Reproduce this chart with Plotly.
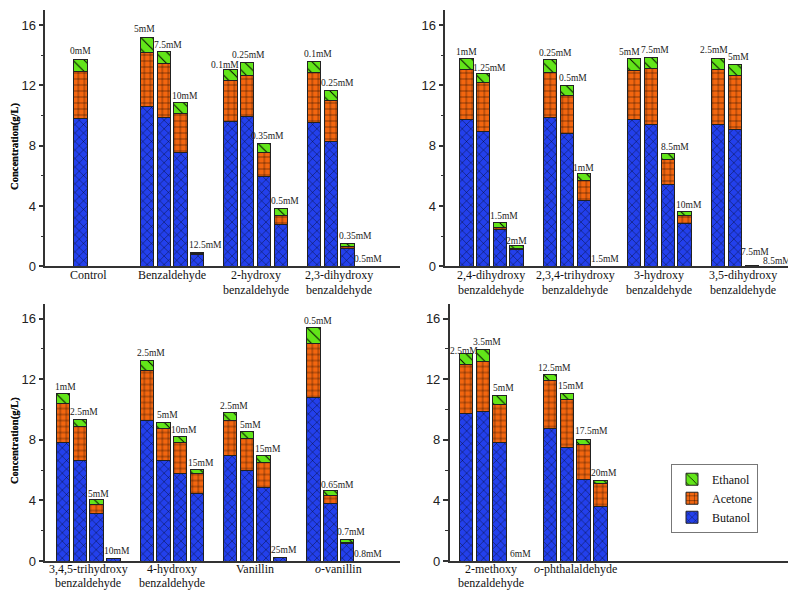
import plotly.graph_objects as go

# ---------------- data ----------------
categories_p1 = ["Control", "Benzaldehyde", "2-hydroxy<br>benzaldehyde", "2,3-dihydroxy<br>benzaldehyde"]
doses_p1 = [["0mM"], ["5mM", "7.5mM", "10mM", "12.5mM"], ["0.1mM", "0.25mM", "0.35mM", "0.5mM"],
            ["0.1mM", "0.25mM", "0.35mM", "0.5mM"]]
butanol_p1 = [[9.80], [10.60, 9.86, 7.53, 0.76], [9.62, 9.93, 5.96, 2.76], [9.56, 8.25, 1.18, 0.0]]
acetone_p1 = [[3.13], [3.57, 3.57, 2.64, 0.08], [2.68, 2.70, 1.57, 0.59], [3.30, 2.74, 0.17, 0.0]]
ethanol_p1 = [[0.78], [0.98, 0.81, 0.69, 0.07], [0.78, 0.89, 0.65, 0.52], [0.74, 0.66, 0.17, 0.0]]

categories_p2 = ["2,4-dihydroxy<br>benzaldehyde", "2,3,4-trihydroxy<br>benzaldehyde",
                 "3-hydroxy<br>benzaldehyde", "3,5-dihydroxy<br>benzaldehyde"]
doses_p2 = [["1mM", "1.25mM", "1.5mM", "2mM"], ["0.25mM", "0.5mM", "1mM", "1.5mM"],
            ["5mM", "7.5mM", "8.5mM", "10mM"], ["2.5mM", "5mM", "7.5mM", "8.5mM"]]
butanol_p2 = [[9.73, 8.95, 2.48, 1.13], [9.88, 8.84, 4.40, 0.0], [9.75, 9.43, 5.42, 2.85], [9.43, 9.08, 0.04, 0.0]]
acetone_p2 = [[3.31, 3.26, 0.13, 0.09], [2.98, 2.52, 1.30, 0.0], [3.25, 3.72, 1.65, 0.52], [3.65, 3.57, 0.0, 0.0]]
ethanol_p2 = [[0.72, 0.61, 0.29, 0.15], [0.88, 0.66, 0.44, 0.0], [0.78, 0.72, 0.42, 0.27], [0.70, 0.74, 0.0, 0.0]]

categories_p3 = ["3,4,5-trihydroxy<br>benzaldehyde", "4-hydroxy<br>benzaldehyde", "Vanillin", "<i>o</i>-vanillin"]
doses_p3 = [["1mM", "2.5mM", "5mM", "10mM"], ["2.5mM", "5mM", "10mM", "15mM"],
            ["2.5mM", "5mM", "15mM", "25mM"], ["0.5mM", "0.65mM", "0.7mM", "0.8mM"]]
butanol_p3 = [[7.84, 6.67, 3.17, 0.17], [9.25, 6.67, 5.78, 4.43], [6.99, 6.01, 4.86, 0.26], [10.79, 3.78, 1.13, 0.0]]
acetone_p3 = [[2.56, 2.23, 0.56, 0.0], [3.36, 2.10, 2.04, 1.32], [2.28, 2.07, 1.65, 0.0], [3.58, 0.54, 0.11, 0.0]]
ethanol_p3 = [[0.65, 0.46, 0.33, 0.0], [0.66, 0.41, 0.39, 0.29], [0.52, 0.47, 0.44, 0.0], [1.02, 0.33, 0.21, 0.0]]

categories_p4 = ["2-methoxy<br>benzaldehyde", "<i>o</i>-phthalaldehyde"]
doses_p4 = [["2.5mM", "3.5mM", "5mM", "6mM"], ["12.5mM", "15mM", "17.5mM", "20mM"]]
butanol_p4 = [[9.75, 9.86, 7.84, 0.0], [8.75, 7.47, 5.38, 3.63]]
acetone_p4 = [[3.21, 3.30, 2.49, 0.0], [3.17, 3.17, 2.33, 1.47]]
ethanol_p4 = [[0.74, 0.82, 0.61, 0.0], [0.39, 0.45, 0.34, 0.24]]

series_names = ["Butanol", "Acetone", "Ethanol"]
y_ticks = [0, 4, 8, 12, 16]
y_title = "Concentration(g/L)"

# ---------------- style / layout ----------------
COLORS = {"Butanol": "#2340ec", "Acetone": "#f3660f", "Ethanol": "#62e619"}
PATTERNS = {"Butanol": dict(shape="x", size=6, solidity=0.12),
            "Acetone": dict(shape="+", size=6, solidity=0.14),
            "Ethanol": dict(shape="\\", size=8, solidity=0.12)}
PITCH = 0.2
BAR_W = 0.16
SERIF = "Liberation Serif, Times New Roman, serif"
SANS = "Liberation Sans, Arial, sans-serif"

panels = [
    dict(cats=categories_p1, doses=doses_p1, vals=[butanol_p1, acetone_p1, ethanol_p1],
         xdom=[0.0469, 0.4925], ydom=[0.5559, 0.9966], xr=[0.48, 4.73], lab_dy=(9, 24)),
    dict(cats=categories_p2, doses=doses_p2, vals=[butanol_p2, acetone_p2, ethanol_p2],
         xdom=[0.5494, 0.9987], ydom=[0.5559, 0.9966], xr=[0.45, 4.71], lab_dy=(9, 24)),
    dict(cats=categories_p3, doses=doses_p3, vals=[butanol_p3, acetone_p3, ethanol_p3],
         xdom=[0.0469, 0.4925], ydom=[0.0497, 0.4922], xr=[0.485, 4.735], lab_dy=(8, 22)),
    dict(cats=categories_p4, doses=doses_p4, vals=[butanol_p4, acetone_p4, ethanol_p4],
         xdom=[0.5549, 0.9925], ydom=[0.0497, 0.4922], xr=[0.505, 4.655], lab_dy=(8, 22)),
]

# label pixel shifts (dx, dy) for individual dose labels; default below
DEFAULT_SHIFT = (4, 7)
LABEL_SHIFT = {
    (0, 0, 0): (0, 9), (0, 1, 0): (-3, 9), (0, 1, 3): (8, 8), (0, 2, 0): (-6, 4), (0, 2, 1): (1, 7),
    (0, 3, 1): (7, 8), (0, 3, 2): (8, 8),
    (1, 0, 0): (0, 7), (1, 0, 1): (6, 5), (1, 0, 3): (0, 5), (1, 1, 0): (5, 6), (1, 1, 1): (6, 7),
    (1, 1, 2): (0, 6), (1, 2, 0): (-5, 7), (1, 2, 2): (7, 6), (1, 3, 0): (-4, 9), (1, 3, 2): (3, 14),
    (1, 3, 3): (8, 5),
    (2, 0, 0): (2, 7), (2, 0, 2): (2, 6), (2, 3, 1): (7, 6),
    (3, 0, 0): (-2, 3), (3, 1, 2): (8, 8),
}

fig = go.Figure()
annotations = []
layout_axes = {}

for p, panel in enumerate(panels):
    sfx = "" if p == 0 else str(p + 1)
    xs_all, totals, labels, keys = [], [], [], []
    for g, doses in enumerate(panel["doses"]):
        for s, d in enumerate(doses):
            slot = 1 if len(doses) == 1 else s
            xs_all.append(g + 1 + (slot - 1.5) * PITCH)
            totals.append(sum(panel["vals"][k][g][s] for k in range(3)))
            labels.append(d)
            keys.append((p, g, s))
    for k, name in enumerate(series_names):
        ys = [v for grp in panel["vals"][k] for v in grp]
        fig.add_trace(go.Bar(
            x=xs_all, y=ys, width=BAR_W, name=name, legendgroup=name,
            showlegend=(p == 0),
            marker=dict(color=COLORS[name], line=dict(color="#222", width=1),
                        pattern=dict(fillmode="replace", fgcolor="#000", bgcolor=COLORS[name],
                                     fgopacity=1, **PATTERNS[name])),
            xaxis="x" + sfx, yaxis="y" + sfx, hoverinfo="skip"))
    for x, t, lab, key in zip(xs_all, totals, labels, keys):
        dx, dy = LABEL_SHIFT.get(key, DEFAULT_SHIFT)
        annotations.append(dict(x=x, y=t, xref="x" + sfx, yref="y" + sfx, text=lab, showarrow=False,
                                xanchor="center", yanchor="middle", xshift=dx, yshift=dy,
                                font=dict(family=SERIF, size=9.5, color="#222")))
    # category labels (drawn as annotations for tight line spacing)
    for g, cat in enumerate(panel["cats"]):
        for li, line in enumerate(cat.split("<br>")):
            annotations.append(dict(x=g + 1, y=0, xref="x" + sfx, yref="y" + sfx + " domain",
                                    text=line, showarrow=False, xanchor="center", yanchor="middle",
                                    yshift=-panel["lab_dy"][li], borderpad=0,
                                    font=dict(family=SERIF, size=12, color="#111")))
    layout_axes["xaxis" + sfx] = dict(
        domain=panel["xdom"], range=panel["xr"], anchor="y" + sfx,
        showticklabels=False,
        showline=True, linecolor="#333", linewidth=1.5, ticks="", showgrid=False, zeroline=False)
    layout_axes["yaxis" + sfx] = dict(
        domain=panel["ydom"], range=[0, 17], anchor="x" + sfx,
        tickvals=y_ticks, showline=True, linecolor="#333", linewidth=1.5,
        ticks="outside", ticklen=5, tickwidth=1.5, tickcolor="#333",
        minor=dict(ticks="outside", ticklen=3, tickwidth=1, tickcolor="#333", dtick=2, tick0=0),
        showgrid=False, zeroline=False,
        tickfont=dict(family=SANS, size=13, color="#222"))
    ymid = (panel["ydom"][0] + panel["ydom"][1]) / 2 - 0.015
    annotations.append(dict(x=7 / 796, y=ymid, xref="paper", yref="paper", text="<b>" + y_title + "</b>",
                            textangle=-90, showarrow=False, xanchor="center", yanchor="middle",
                            font=dict(family=SERIF, size=10.5, color="#111")))

fig.update_layout(
    width=796, height=590, barmode="stack",
    margin=dict(l=0, r=0, t=0, b=0),
    paper_bgcolor="white", plot_bgcolor="white",
    showlegend=True,
    legend=dict(x=663 / 796, y=1 - 462 / 590, xanchor="left", yanchor="top",
                traceorder="reversed", bordercolor="#777", borderwidth=1, bgcolor="white",
                font=dict(family=SERIF, size=12, color="#111"), itemwidth=30,
                tracegroupgap=0),
    annotations=annotations,
    **layout_axes)

fig.write_html("out.html")
